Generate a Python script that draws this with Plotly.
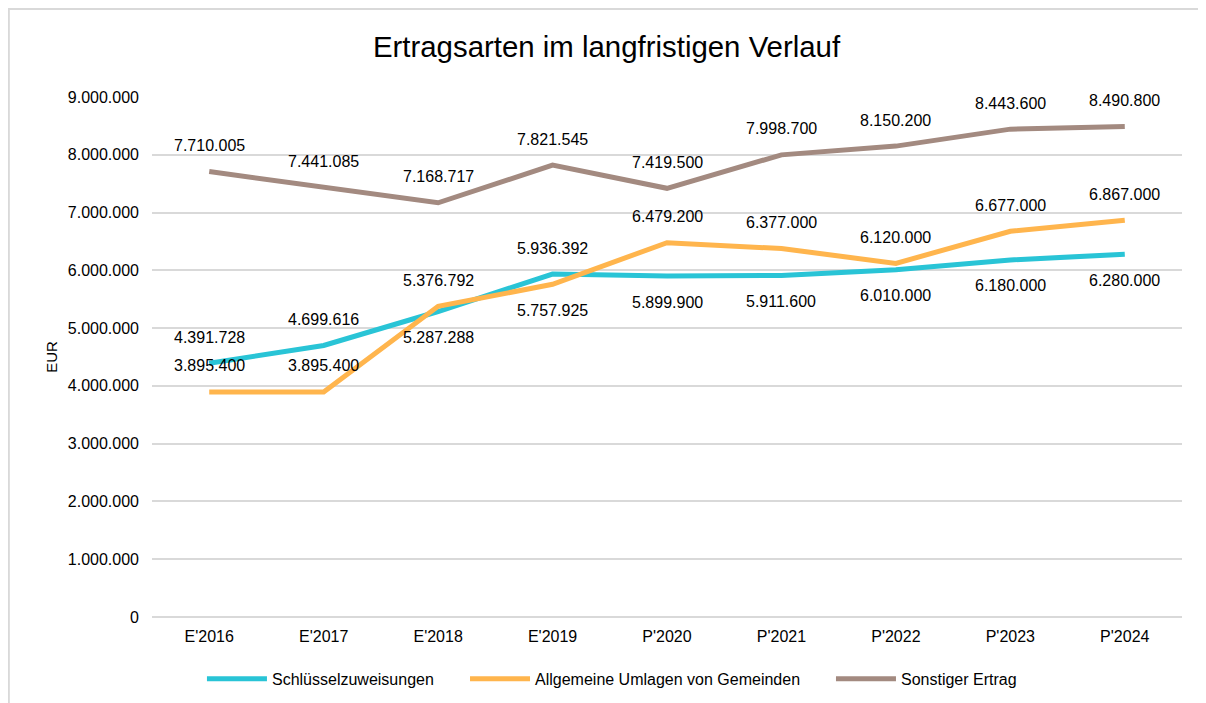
import plotly.graph_objects as go

jahre = ["E'2016", "E'2017", "E'2018", "E'2019", "P'2020", "P'2021", "P'2022", "P'2023", "P'2024"]
schluessel = [4391728, 4699616, 5287288, 5936392, 5899900, 5911600, 6010000, 6180000, 6280000]
umlagen = [3895400, 3895400, 5376792, 5757925, 6479200, 6377000, 6120000, 6677000, 6867000]
sonstiger = [7710005, 7441085, 7168717, 7821545, 7419500, 7998700, 8150200, 8443600, 8490800]

y_ticks = list(range(0, 9000001, 1000000))


def de(v):
    return f"{v:,.0f}".replace(",", ".")


# label placement per point: 1 = above, -1 = below
lage_schluessel = [1, 1, -1, 1, -1, -1, -1, -1, -1]
lage_umlagen = [1, 1, 1, -1, 1, 1, 1, 1, 1]
lage_sonstiger = [1, 1, 1, 1, 1, 1, 1, 1, 1]

# each series gets its own legend so the entries can be spaced like the original
serien = [
    ("Schlüsselzuweisungen", schluessel, "#29C4D6", lage_schluessel, "legend", 0.0485),
    ("Allgemeine Umlagen von Gemeinden", umlagen, "#FFB54D", lage_umlagen, "legend2", 0.3039),
    ("Sonstiger Ertrag", sonstiger, "#A38A80", lage_sonstiger, "legend3", 0.6592),
]

fig = go.Figure()
annotations = []
legends = {}
for name, werte, farbe, lage, leg, lx in serien:
    fig.add_trace(go.Scatter(
        x=jahre, y=werte, name=name, mode="lines",
        line=dict(color=farbe, width=5), legend=leg, showlegend=True,
    ))
    legends[leg] = dict(orientation="h", x=lx, xanchor="left", y=-0.119, yanchor="middle",
                        font=dict(size=16), itemwidth=60, bgcolor="rgba(0,0,0,0)")
    for x, v, l in zip(jahre, werte, lage):
        annotations.append(dict(
            x=x, y=v, text=de(v), showarrow=False,
            yshift=26 * l, font=dict(size=16, color="#000000"),
        ))

fig.update_layout(
    width=1206, height=703, showlegend=True,
    paper_bgcolor="white", plot_bgcolor="white",
    font=dict(family="Liberation Sans, Arial, sans-serif", color="#000000", size=16),
    title=dict(text="Ertragsarten im langfristigen Verlauf", x=0.4963, xanchor="center",
               y=0.9445, yanchor="middle", font=dict(size=29.4)),
    margin=dict(l=144, r=32, t=89, b=94),
    annotations=annotations,
    shapes=[dict(type="rect", xref="paper", yref="paper", x0=-0.139, x1=1.03,
                 y0=-0.2, y1=1.169, line=dict(color="#D9D9D9", width=2))],
    **legends,
)
fig.update_xaxes(showgrid=False, showline=False, ticks="", tickfont=dict(size=16),
                 ticklabelstandoff=8, range=[-0.5, 8.5])
fig.update_yaxes(range=[0, 9000000], tickvals=y_ticks, ticktext=[de(t) for t in y_ticks],
                 showgrid=True, gridcolor="#D9D9D9", gridwidth=1.5,
                 zeroline=True, zerolinecolor="#D9D9D9", zerolinewidth=1.5,
                 showline=False, ticks="", ticklen=0, tickfont=dict(size=16),
                 ticklabelstandoff=12,
                 title=dict(text="EUR", font=dict(size=15), standoff=6))

fig.write_html("out.html")
